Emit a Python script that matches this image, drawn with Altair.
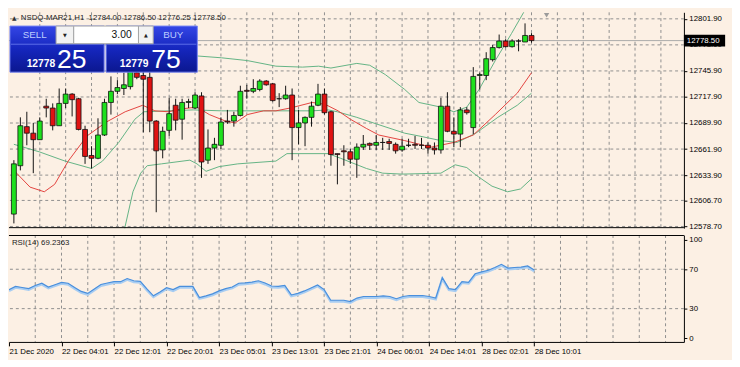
import json
import altair as alt
import pandas as pd

# ---------------- data ----------------
bar_index = list(range(81))
opens = [12592, 12644, 12686, 12679, 12672, 12708, 12706, 12687, 12711, 12721,
         12716, 12683, 12655, 12652, 12677, 12712, 12724, 12727, 12729, 12744,
         12741, 12739, 12692, 12661, 12682, 12709, 12694, 12712, 12706, 12719,
         12650, 12663, 12666, 12692, 12692, 12698, 12725, 12724, 12726, 12735,
         12732, 12716, 12716, 12720, 12685, 12690, 12696, 12709, 12721, 12702,
         12657, 12660, 12659, 12651, 12664, 12668, 12666, 12669, 12670, 12667,
         12661, 12666, 12667, 12666, 12666, 12663, 12661, 12708, 12681, 12678,
         12704, 12685, 12741, 12741, 12758, 12771, 12778, 12772, 12778, 12777,
         12784]
highs = [12650, 12696, 12702, 12690, 12696, 12716, 12711, 12727, 12727, 12722,
         12717, 12687, 12665, 12695, 12716, 12740, 12736, 12744, 12752, 12750,
         12745, 12745, 12693, 12686, 12717, 12716, 12716, 12716, 12723, 12723,
         12683, 12674, 12696, 12704, 12702, 12730, 12731, 12737, 12737, 12736,
         12733, 12722, 12730, 12727, 12704, 12697, 12713, 12732, 12727, 12703,
         12657, 12666, 12662, 12668, 12677, 12669, 12677, 12674, 12673, 12669,
         12673, 12673, 12676, 12674, 12669, 12669, 12717, 12723, 12696, 12707,
         12707, 12750, 12744, 12766, 12774, 12785, 12780, 12780, 12780, 12797,
         12786.5]
lows = [12582, 12639, 12666, 12636, 12672, 12696, 12682, 12687, 12706, 12697,
        12682, 12646, 12641, 12651, 12676, 12699, 12721, 12720, 12726, 12737,
        12680, 12680, 12594, 12652, 12676, 12682, 12672, 12706, 12705, 12631,
        12646, 12650, 12662, 12689, 12686, 12697, 12716, 12722, 12724, 12730,
        12713, 12707, 12715, 12650, 12667, 12665, 12686, 12708, 12699, 12644,
        12624, 12644, 12646, 12631, 12661, 12661, 12661, 12661, 12661, 12657,
        12659, 12664, 12662, 12662, 12657, 12656, 12657, 12680, 12664, 12664,
        12699, 12678, 12726, 12736, 12756, 12770, 12771, 12771, 12767, 12777,
        12776.25]
closes = [12646, 12687, 12679, 12672, 12692, 12706, 12687, 12711, 12721, 12715,
          12683, 12654, 12652, 12677, 12712, 12724, 12728, 12731, 12748, 12739,
          12737, 12692, 12660, 12681, 12700, 12693, 12712, 12713, 12720, 12648,
          12663, 12667, 12691, 12691, 12698, 12724, 12724, 12727, 12735, 12731,
          12714, 12716, 12720, 12685, 12690, 12696, 12708, 12721, 12701, 12656,
          12656, 12659, 12651, 12664, 12667, 12666, 12669, 12669, 12668, 12660,
          12665, 12666, 12666, 12666, 12663, 12661, 12708, 12681, 12678, 12704,
          12701, 12740, 12742, 12759, 12771, 12778, 12772, 12778, 12778, 12784,
          12778.5]

rsi_values = [49.3, 52.6, 51.5, 50.3, 53.5, 55.8, 51.9, 54.3, 56.7, 55.8,
              51.5, 47.5, 45.5, 50, 54.5, 56, 57.4, 57.4, 60.6, 58.3,
              57.7, 50, 43, 47, 51.3, 49.3, 52.6, 52.6, 52.6, 41.3,
              43, 45, 48, 50.3, 52, 55.8, 56.1, 57, 58.3, 56,
              53, 52.6, 53.5, 43.9, 45.5, 48, 51, 54.1, 49.3, 38.5,
              38.5, 38.5, 37.2, 40.7, 42.3, 42.3, 42.3, 43, 42.3, 40.1,
              42.3, 43.3, 43.3, 43.3, 42.3, 40.7, 61.5, 50.3, 49.3, 57.4,
              56.7, 65.4, 67.3, 69, 71.8, 75, 71.2, 71.8, 72.1, 73.4,
              69.2363]

ma_x = [0, 2.5, 4.7, 6.3, 8.4, 11.3, 14.3, 17.2, 19.9, 21.8, 23.9, 25.8, 28.3,
        30.2, 32.7, 34.2, 36.1, 38.6, 40.5, 42.7, 46.1, 48.1, 50.1, 52, 54.5,
        56.4, 60.4, 64.5, 68, 71, 74.4, 77.8, 80]
ma_y = [12639, 12621, 12616, 12624, 12649, 12676, 12691, 12702, 12709, 12703,
        12702, 12705, 12707, 12699, 12692, 12690, 12699, 12703, 12703, 12706,
        12712, 12710, 12703, 12694, 12684, 12677, 12671, 12664, 12669, 12677,
        12699, 12722, 12744]

mid_x = [0, 3.9, 7.9, 12, 13.7, 16.2, 18.7, 20.1, 23.9, 27.7, 32.1, 40.5, 46.1,
         48.6, 50, 53, 56, 60.4, 62.6, 66, 68.5, 71.4, 74.8, 77.8, 80]
mid_y = [12667, 12659, 12649, 12641, 12649, 12669, 12694, 12702, 12703, 12704,
         12703, 12703, 12703, 12704, 12702, 12696, 12689, 12679, 12676, 12671,
         12669, 12679, 12696, 12709, 12722]

low_x = [16, 17.2, 18.4, 19.6, 20.6, 22.8, 27.2, 28.3, 29.7, 31.7, 34.6, 40.5,
         42.2, 48.6, 50.5, 54.5, 57, 60, 66, 68.2, 70, 71.4, 73.9, 76.3, 78.3, 80]
low_y = [12530, 12579, 12616, 12636, 12644, 12646, 12650, 12646, 12638, 12643,
         12646, 12649, 12657, 12657, 12652, 12641, 12636, 12635, 12636, 12645,
         12642, 12634, 12622, 12616, 12619, 12630]

up_x = [20, 24, 28.3, 32.1, 36.1, 40.5, 44.6, 47.1, 49, 53, 55, 57.4, 60.4,
        62.6, 66, 68, 70, 71.9, 74.4, 76.9, 78.8, 80]
up_y = [12760, 12762, 12762, 12760, 12757, 12751, 12750, 12751, 12749, 12754,
        12752, 12742, 12726, 12712, 12707, 12702, 12707, 12726, 12757, 12786,
        12809, 12826]

price_ticks = [12578.7, 12606.7, 12633.9, 12661.9, 12689.9, 12717.9, 12745.9,
               12773.9, 12801.9]
rsi_ticks = [0, 30, 70, 100]
rsi_levels = [30, 70]
time_ticks = [0, 8, 16, 24, 32, 40, 48, 56, 64, 72, 80]
time_labels = ["21 Dec 2020", "22 Dec 04:01", "22 Dec 12:01", "22 Dec 20:01",
               "23 Dec 05:01", "23 Dec 13:01", "23 Dec 21:01", "24 Dec 06:01",
               "24 Dec 14:01", "28 Dec 02:01", "28 Dec 10:01"]
vgrid_ticks = list(range(4, 101, 4))
last_price = [12778.5]
header_text = "NSDQ-MAR21,H1\u00a0\u00a012784.00 12786.50 12776.25 12778.50"
rsi_text = "RSI(14) 69.2363"

# ---------------- styling ----------------
BG = "#fcf0e4"
GRID = "#8e8e8e"
GREEN = "#1ee01e"
RED = "#e01212"
BAND = "#62b384"
MA = "#e2423e"
FONT = "Liberation Sans"
W = 688
EXT = 42
H_MAIN = 220
H_RSI = 109

xs = alt.Scale(domain=[0, 102.8], nice=False, zero=False)
ys = alt.Scale(domain=[12576.9, 12808.9], nice=False, zero=False)
rs = alt.Scale(domain=[-3.85, 104.8], nice=False, zero=False)

AX_PRICE = alt.Axis(
    orient="right", values=price_ticks, format=".2f", title=None, grid=False,
    tickSize=3, labelPadding=2, minExtent=EXT, maxExtent=EXT, domain=True, domainColor="#000",
    tickColor="#000", labelColor="#000", labelFontSize=8, labelFont=FONT, zindex=0)
AX_TIME = alt.Axis(
    orient="bottom", values=time_ticks, labelExpr=f"{json.dumps(time_labels)}[round(datum.value / 8)]",
    title=None, grid=False, tickSize=4, labelPadding=2, labelAlign="left", labelFlush=False,
    labelOverlap=False, domain=True, domainColor="#000", tickColor="#000", labelColor="#000",
    labelFontSize=8, labelFont=FONT)
AX_RSI = alt.Axis(
    orient="right", values=rsi_ticks, title=None, grid=False, tickSize=3, labelPadding=2,
    minExtent=EXT, maxExtent=EXT, domain=True, domainColor="#000", tickColor="#000",
    labelColor="#000", labelFontSize=8, labelFont=FONT)

candles = pd.DataFrame({"i": bar_index, "o": opens, "h": highs, "l": lows, "c": closes})
one = pd.DataFrame({"k": [0]})
xenc = alt.X("i:Q", scale=xs, axis=None)


def band_line(xv, yv, color, width=1.0):
    d = pd.DataFrame({"i": xv, "p": yv})
    return alt.Chart(d).mark_line(color=color, strokeWidth=width, clip=True).encode(
        x=xenc, y=alt.Y("p:Q", scale=ys, axis=AX_PRICE))


def box(x1, x2, y1, y2, **kw):
    return alt.Chart(one).mark_rect(**kw).encode(
        x=alt.value(x1), x2=alt.value(x2), y=alt.value(y1), y2=alt.value(y2))


def label(txt, x, y, **kw):
    kw.setdefault("font", FONT)
    return alt.Chart(one).mark_text(text=txt, **kw).encode(x=alt.value(x), y=alt.value(y))


def hline(x1, x2, y, color, width=1.0):
    return alt.Chart(one).mark_rule(color=color, strokeWidth=width).encode(
        x=alt.value(x1), x2=alt.value(x2), y=alt.value(y))


vgrid_df = pd.DataFrame({"g": vgrid_ticks})
vgrid = alt.Chart(vgrid_df).mark_rule(color=GRID, strokeDash=[3, 3], strokeWidth=1).encode(
    x=alt.X("g:Q", scale=xs, axis=None))

hgrid = alt.Chart(pd.DataFrame({"p": price_ticks})).mark_rule(
    color=GRID, strokeDash=[3, 3], strokeWidth=1).encode(
    y=alt.Y("p:Q", scale=ys, axis=AX_PRICE))

lp_df = pd.DataFrame({"p": last_price})
price_line = alt.Chart(lp_df).mark_rule(color="#a9a9a9", strokeWidth=1).encode(
    y=alt.Y("p:Q", scale=ys, axis=AX_PRICE))

wicks = alt.Chart(candles).mark_rule(color="#111", strokeWidth=1, clip=True).encode(
    x=xenc, y=alt.Y("l:Q", scale=ys, axis=AX_PRICE), y2="h:Q")
bodies = alt.Chart(candles).mark_bar(size=5, stroke="#111", strokeWidth=0.8, clip=True).encode(
    x=xenc, y=alt.Y("o:Q", scale=ys, axis=AX_PRICE), y2="c:Q",
    color=alt.condition("datum.c > datum.o", alt.value(GREEN), alt.value(RED)))

price_box = alt.Chart(lp_df).mark_rule(color="#000", strokeWidth=12).encode(
    y=alt.Y("p:Q", scale=ys, axis=AX_PRICE), x=alt.value(W), x2=alt.value(W + EXT))
price_txt = alt.Chart(lp_df).mark_text(align="left", baseline="middle", color="#fff",
                                        font=FONT, fontSize=8).encode(
    y=alt.Y("p:Q", scale=ys, axis=AX_PRICE), x=alt.value(W + 3),
    text=alt.Text("p:Q", format=".2f"))

shift_mark = alt.Chart(one).mark_point(shape="triangle-down", filled=True, color="#9c9c9c",
                                       size=30, opacity=1).encode(x=alt.value(548), y=alt.value(3))

blue = alt.LinearGradient(gradient="linear",
                          stops=[alt.GradientStop(color="#3446e6", offset=0),
                                 alt.GradientStop(color="#1526bd", offset=0.5),
                                 alt.GradientStop(color="#0b178f", offset=1)],
                          x1=0, x2=0, y1=0, y2=1)

ui = [
    label("\u25b2", 5.5, 5.5, font="DejaVu Sans", fontSize=6, color="#333", align="center", baseline="middle"),
    label(header_text, 12, 6, fontSize=8, color="#222", align="left", baseline="middle"),
    box(1, 97, 14, 61, color=blue, stroke="#7585f2", strokeWidth=1),
    box(99, 192, 14, 61, color=blue, stroke="#7585f2", strokeWidth=1),
    hline(2, 96, 32.5, "#5d6ee9"),
    hline(100, 191, 32.5, "#5d6ee9"),
    box(48, 66, 14, 32, color="#f2f2f2", stroke="#a5a5a5", strokeWidth=1),
    box(66, 132, 14, 32, color="#ffffff", stroke="#a5a5a5", strokeWidth=1),
    box(132, 147, 14, 32, color="#f2f2f2", stroke="#a5a5a5", strokeWidth=1),
    label("\u25bc", 57, 23, font="DejaVu Sans", fontSize=5, color="#222", align="center", baseline="middle"),
    label("\u25b2", 139.5, 23, font="DejaVu Sans", fontSize=5, color="#222", align="center", baseline="middle"),
    label("3.00", 125, 23.5, fontSize=10.5, color="#111", align="right", baseline="middle"),
    label("SELL", 14, 23.5, fontSize=10, color="#bccbff", align="left", baseline="middle"),
    label("BUY", 167.5, 23.5, fontSize=10, color="#bccbff", align="center", baseline="middle"),
    label("12778", 18, 55.5, fontSize=10.5, fontWeight="bold", color="#fff", align="left", baseline="alphabetic"),
    label("25", 49, 56.5, fontSize=27, color="#fff", align="left", baseline="alphabetic"),
    label("12779", 113, 55.5, fontSize=10.5, fontWeight="bold", color="#fff", align="left", baseline="alphabetic"),
    label("75", 145, 56.5, fontSize=27, color="#fff", align="left", baseline="alphabetic"),
]

main = alt.layer(
    vgrid, hgrid, price_line,
    band_line(up_x, up_y, BAND), band_line(mid_x, mid_y, BAND), band_line(low_x, low_y, BAND),
    band_line(ma_x, ma_y, MA),
    wicks, bodies, price_box, price_txt, shift_mark,
    hline(0, W, H_MAIN - 0.5, "#000"),
    *ui,
).properties(width=W, height=H_MAIN)

# ---------------- RSI panel ----------------
rsi_df = pd.DataFrame({"i": bar_index, "r": rsi_values})
xr = alt.X("i:Q", scale=xs, axis=AX_TIME)

rsi_vgrid = alt.Chart(vgrid_df).mark_rule(color=GRID, strokeDash=[3, 3], strokeWidth=1).encode(
    x=alt.X("g:Q", scale=xs, axis=AX_TIME))
rsi_hgrid = alt.Chart(pd.DataFrame({"v": rsi_levels})).mark_rule(
    color=GRID, strokeDash=[3, 3], strokeWidth=1).encode(
    y=alt.Y("v:Q", scale=rs, axis=AX_RSI))
rsi_glow = alt.Chart(rsi_df).mark_line(color="#a8cdf2", strokeWidth=2.5, yOffset=1.2, clip=True).encode(
    x=xr, y=alt.Y("r:Q", scale=rs, axis=AX_RSI))
rsi_line = alt.Chart(rsi_df).mark_line(color="#4a8fdc", strokeWidth=1.2, clip=True).encode(
    x=xr, y=alt.Y("r:Q", scale=rs, axis=AX_RSI))

rsi = alt.layer(
    rsi_vgrid, rsi_hgrid, rsi_glow, rsi_line,
    hline(0, W, 0.5, "#000"),
    label(rsi_text, 3, 8.5, fontSize=8, color="#222", align="left", baseline="middle"),
).properties(width=W, height=H_RSI)

chart = alt.vconcat(main, rsi, spacing=3).properties(
    padding={"left": 0, "top": 0, "right": 0, "bottom": 0}
).configure(background=BG).configure_view(stroke="transparent")

chart.save("out.html", embed_options={"renderer": "svg", "actions": False})
